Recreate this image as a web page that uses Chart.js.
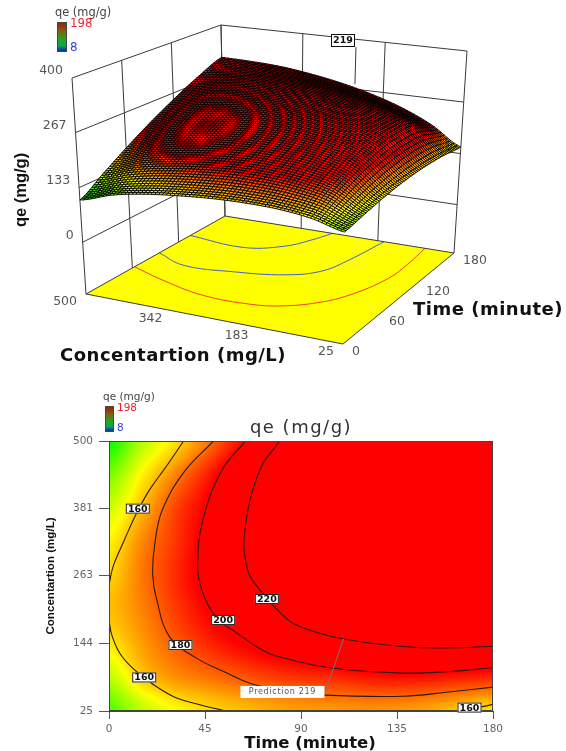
<!DOCTYPE html>
<html>
<head>
<meta charset="utf-8">
<title>qe (mg/g)</title>
<script src="https://cdn.jsdelivr.net/npm/chart.js@4"></script>
<style>
  html, body { margin: 0; padding: 0; background: #fff; overflow: hidden; }
  #wrap { position: relative; width: 566px; height: 751px; overflow: hidden; }
  canvas { position: absolute; left: 0; display: block; }
  #surfaceChart { top: 0; }
  #contourChart { top: 380px; }
</style>
</head>
<body>
<div id="wrap">
  <canvas id="surfaceChart" width="566" height="380"></canvas>
  <canvas id="contourChart" width="566" height="371"></canvas>
</div>
<script>
// Axis ticks
const timeTicks3d = [0, 60, 120, 180];
const concTicks3d = [500, 342, 183, 25];
const qeTicks3d = [0, 133, 267, 400];
const timeTicks2d = [0, 45, 90, 135, 180];
const concTicks2d = [25, 144, 263, 381, 500];

// Colour scale
const colourValues = [8, 55, 103, 150, 198];
const colourRgb = [[0, 0, 255], [0, 255, 255], [0, 255, 0], [255, 255, 0], [255, 0, 0]];

// Contour plot response (rows = concentration, columns = time)
const gridTime = [0, 15, 30, 45, 60, 75, 90, 105, 120, 135, 150, 165, 180];
const gridConc = [500, 441, 381, 322, 263, 203, 144, 84, 25];
const q500 = [105, 135, 154, 174, 194, 213, 226, 233, 238, 240, 240, 239, 236];
const q441 = [125, 151, 172, 191, 210, 224, 232, 238, 242, 244, 244, 243, 240];
const q381 = [141, 162, 184, 199, 214, 226, 234, 240, 244, 246, 247, 246, 243];
const q322 = [152, 172, 187, 202, 217, 227, 235, 240, 244, 246, 246, 245, 242];
const q263 = [158, 175, 189, 203, 216, 225, 232, 237, 240, 242, 242, 241, 239];
const q203 = [162, 173, 186, 198, 209, 219, 225, 229, 232, 233, 234, 233, 231];
const q144 = [154, 168, 180, 190, 198, 205, 211, 217, 220, 221, 221, 221, 220];
const q084 = [138, 159, 170, 176, 181, 186, 189, 191, 194, 196, 195, 193, 191];
const q025 = [118, 137, 149, 156, 161, 165, 168, 169, 170, 169, 166, 160, 155];
const gridQ = [q500, q441, q381, q322, q263, q203, q144, q084, q025];

// Contour lines, [time, concentration]
const line160a = [[35, 500], [27, 456], [19, 414], [12.5, 370], [7, 324], [2, 280], [0, 247]];
const line160b = [[0, 185], [1.3, 159], [5, 127], [10.6, 102], [16.7, 83], [23.8, 64], [31.7, 48], [42.5, 36], [55, 25]];
const line160c = [[163, 25], [177, 34], [180, 37]];
const line180 = [[49, 500], [35.5, 447], [25, 379], [21.4, 317], [20.5, 264], [22.4, 220], [28.5, 155], [41, 118], [54, 94], [67.5, 72], [85, 60], [101, 53], [138, 51], [158, 58], [180, 67]];
const line200 = [[64, 500], [53, 449], [44, 361], [41.6, 282], [43.5, 238], [50.5, 189], [60, 162], [72, 132], [80, 120], [103.6, 101], [135, 92], [158, 94], [180, 101]];
const line220 = [[80, 500], [70.7, 449], [63.7, 343], [65, 273], [70.7, 238], [80, 199], [88, 176], [109.6, 152], [139.7, 138], [158, 136], [180, 139]];
const contourLines = [line160a, line160b, line160c, line180, line200, line220];

// Contour labels, [text, time, concentration]
const contourLabels = [
  ['160', 13.5, 381], ['160', 16.5, 84], ['180', 33.5, 141],
  ['200', 53.5, 185], ['220', 74, 222], ['160', 169, 31]
];
const predictionPoint = [110, 152];
const predictionAnchor = [101, 55];
const predictionText = 'Prediction 219';

// 3D surface response (rows = concentration, columns = time)
const surfTime = [0, 30, 60, 90, 120, 150, 180];
const surfConc = [500, 441, 381, 322, 263, 203, 144, 84, 25];
const s500 = [103, 140, 178, 215, 250, 283, 311];
const s441 = [128, 166, 203, 238, 269, 293, 309];
const s381 = [143, 182, 219, 252, 279, 298, 304];
const s322 = [152, 192, 229, 260, 283, 296, 293];
const s263 = [158, 198, 233, 261, 280, 289, 278];
const s203 = [160, 198, 231, 256, 272, 276, 258];
const s144 = [158, 192, 222, 244, 257, 257, 232];
const s084 = [149, 176, 200, 218, 228, 224, 197];
const s025 = [130, 140, 150, 157, 160, 158, 150];
const surfQ = [s500, s441, s381, s322, s263, s203, s144, s084, s025];

// Contours on the floor of the 3D box, [time, concentration]
const floorBlue1 = [[135, 500], [130, 386], [144, 324], [162, 296], [180, 277]];
const floorBlue2 = [[95, 500], [81, 433], [85, 343], [96, 253], [113, 205], [140, 186], [180, 170]];
const floorRed = [[63, 500], [50, 433], [36, 333], [36, 239], [43, 191], [59, 144], [81, 110], [120, 82], [148, 80], [180, 85]];

// 3D view: where the box corners land, order [C500/t0, C500/t180, C25/t180, C25/t0]
const floorCorners = [[86, 294], [225, 216], [454, 253], [343, 344]];
const topCorners = [[72, 78], [221, 25], [467, 51], [346, 114]];
const floorLevel = -126;
const topLevel = 400;

function project(t, c, q) {
  const u = t / 180, v = (500 - c) / 475;
  const w = (q - floorLevel) / (topLevel - floorLevel);
  const weights = [(1 - u) * (1 - v), u * (1 - v), u * v, (1 - u) * v];
  let x = 0, y = 0;
  for (let i = 0; i < 4; i++) {
    x += weights[i] * (floorCorners[i][0] + w * (topCorners[i][0] - floorCorners[i][0]));
    y += weights[i] * (floorCorners[i][1] + w * (topCorners[i][1] - floorCorners[i][1]));
  }
  return { x: x, y: y };
}

// smooth shading between the read values (Catmull-Rom)
function spline(p0, p1, p2, p3, f) {
  return p1 + 0.5 * f * (p2 - p0 + f * (2 * p0 - 5 * p1 + 4 * p2 - p3 + f * (3 * (p1 - p2) + p3 - p0)));
}

function lookup(rowsQ, times, concs, t, c) {
  const nx = times.length, ny = concs.length;
  const a = (t - times[0]) / (times[nx - 1] - times[0]) * (nx - 1);
  const b = (concs[0] - c) / (concs[0] - concs[ny - 1]) * (ny - 1);
  const i = Math.max(0, Math.min(nx - 2, Math.floor(a)));
  const j = Math.max(0, Math.min(ny - 2, Math.floor(b)));
  const vals = [];
  for (let r = j - 1; r <= j + 2; r++) {
    const row = rowsQ[Math.max(0, Math.min(ny - 1, r))];
    const at = k => row[Math.max(0, Math.min(nx - 1, k))];
    vals.push(spline(at(i - 1), at(i), at(i + 1), at(i + 2), a - i));
  }
  return spline(vals[0], vals[1], vals[2], vals[3], b - j);
}

function colourFor(q) {
  if (q >= colourValues[4]) return colourRgb[4];
  if (q <= colourValues[0]) return colourRgb[0];
  let k = 0;
  while (q > colourValues[k + 1]) k++;
  const f = (q - colourValues[k]) / (colourValues[k + 1] - colourValues[k]);
  return [0, 1, 2].map(n => Math.round(colourRgb[k][n] + f * (colourRgb[k + 1][n] - colourRgb[k][n])));
}

// small colour bar with its title, same in both charts
function drawColourBar(ctx, x, y, w, h, size, bigSize) {
  const g = ctx.createLinearGradient(0, y, 0, y + h);
  g.addColorStop(0, '#a81408');
  g.addColorStop(0.3, '#806010');
  g.addColorStop(0.6, '#20a820');
  g.addColorStop(0.8, '#10a060');
  g.addColorStop(1, '#0010c8');
  ctx.fillStyle = g;
  ctx.fillRect(x, y, w, h);
  ctx.strokeStyle = '#444';
  ctx.lineWidth = 1;
  ctx.strokeRect(x + 0.5, y + 0.5, w - 1, h - 1);
  ctx.textBaseline = 'middle';
  ctx.textAlign = 'left';
  ctx.fillStyle = '#444';
  ctx.font = size + 'px "DejaVu Sans"';
  ctx.fillText('qe (mg/g)', x - 2, y - 9);
  ctx.font = bigSize + 'px "DejaVu Sans"';
  ctx.fillStyle = '#f02030';
  ctx.fillText('198', x + w + 3, y + 2);
  ctx.fillStyle = '#3040e0';
  ctx.fillText('8', x + w + 3, y + h - 4);
}

const SURF_CELLS = 70;

const surfacePlugin = {
  id: 'surface3d',
  beforeDatasetsDraw(chart) {
    // yellow floor under the floor contours
    const ctx = chart.ctx, sx = chart.scales.x, sy = chart.scales.y;
    ctx.save();
    ctx.beginPath();
    [[0, 500], [180, 500], [180, 25], [0, 25]].forEach((p, i) => {
      const a = project(p[0], p[1], floorLevel);
      const px = sx.getPixelForValue(a.x), py = sy.getPixelForValue(a.y);
      if (i === 0) ctx.moveTo(px, py); else ctx.lineTo(px, py);
    });
    ctx.closePath();
    ctx.fillStyle = '#ffff00';
    ctx.fill();
    ctx.restore();
  },
  afterDatasetsDraw(chart) {
    const ctx = chart.ctx, sx = chart.scales.x, sy = chart.scales.y;
    const at = (t, c, q) => {
      const a = project(t, c, q);
      return [sx.getPixelForValue(a.x), sy.getPixelForValue(a.y)];
    };
    ctx.save();
    // mesh drawn from the back corner to the front corner
    ctx.lineWidth = 1;
    ctx.strokeStyle = 'rgba(0,0,0,0.9)';
    const q = (t, c) => lookup(surfQ, surfTime, surfConc, t, c);
    for (let i = SURF_CELLS - 1; i >= 0; i--) {
      for (let j = 0; j < SURF_CELLS; j++) {
        const t0 = 180 * i / SURF_CELLS, t1 = 180 * (i + 1) / SURF_CELLS;
        const c0 = 500 - 475 * j / SURF_CELLS, c1 = 500 - 475 * (j + 1) / SURF_CELLS;
        const p = [at(t0, c0, q(t0, c0)), at(t1, c0, q(t1, c0)), at(t1, c1, q(t1, c1)), at(t0, c1, q(t0, c1))];
        const rgb = colourFor(q((t0 + t1) / 2, (c0 + c1) / 2));
        ctx.beginPath();
        ctx.moveTo(p[0][0], p[0][1]);
        for (let k = 1; k < 4; k++) ctx.lineTo(p[k][0], p[k][1]);
        ctx.closePath();
        ctx.fillStyle = 'rgb(' + rgb.join(',') + ')';
        ctx.fill();
        ctx.stroke();
      }
    }
    // the 219 flag
    ctx.fillStyle = '#fff';
    ctx.fillRect(331, 34, 24, 13);
    ctx.strokeStyle = '#111';
    ctx.lineWidth = 1;
    ctx.strokeRect(331.5, 34.5, 23, 12);
    ctx.fillStyle = '#111';
    ctx.font = 'bold 9.5px "DejaVu Sans"';
    ctx.textAlign = 'center';
    ctx.textBaseline = 'middle';
    ctx.fillText('219', 343, 41);

    // tick labels
    ctx.fillStyle = '#555';
    ctx.font = '12.5px "DejaVu Sans"';
    ctx.textAlign = 'right';
    qeTicks3d.forEach(v => {
      const p = at(0, 500, v);
      ctx.fillText(String(v), p[0] - 9, p[1] - 7);
    });
    concTicks3d.forEach(v => {
      const p = at(0, v, floorLevel);
      ctx.fillText(String(v), p[0] - 9, p[1] + 8);
    });
    ctx.textAlign = 'left';
    timeTicks3d.forEach(v => {
      const p = at(v, 25, floorLevel);
      ctx.fillText(String(v), p[0] + 9, p[1] + 8);
    });

    // axis titles
    ctx.fillStyle = '#111';
    ctx.font = 'bold 18px "DejaVu Sans"';
    ctx.letterSpacing = '0.5px';
    ctx.textAlign = 'left';
    ctx.fillText('Concentartion (mg/L)', 60, 356);
    ctx.fillText('Time (minute)', 413, 310);
    ctx.letterSpacing = '0px';
    ctx.save();
    ctx.translate(21, 190);
    ctx.rotate(-Math.PI / 2);
    ctx.textAlign = 'center';
    ctx.font = 'bold 16.5px "Liberation Sans"';
    ctx.fillText('qe (mg/g)', 0, 0);
    ctx.restore();

    drawColourBar(ctx, 57, 22, 10, 30, 11.4, 11.8);
    ctx.restore();
  }
};

// box edges and wall grid
const boxLines = [];
function addBoxLine(a, b) {
  boxLines.push([project(a[0], a[1], a[2]), project(b[0], b[1], b[2])]);
}
qeTicks3d.forEach(q => {
  addBoxLine([0, 500, q], [180, 500, q]);
  addBoxLine([180, 500, q], [180, 25, q]);
});
timeTicks3d.forEach(t => addBoxLine([t, 500, floorLevel], [t, 500, topLevel]));
concTicks3d.forEach(c => addBoxLine([180, c, floorLevel], [180, c, topLevel]));
addBoxLine([0, 500, floorLevel], [180, 500, floorLevel]);
addBoxLine([180, 500, floorLevel], [180, 25, floorLevel]);
addBoxLine([180, 25, floorLevel], [0, 25, floorLevel]);
addBoxLine([0, 25, floorLevel], [0, 500, floorLevel]);
addBoxLine([180, 239, 280], [180, 239, 379]);

const floorPoints = line => line.map(p => project(p[0], p[1], floorLevel));

new Chart(document.getElementById('surfaceChart'), {
  type: 'scatter',
  data: {
    datasets: [
      ...boxLines.map(l => ({
        data: l, showLine: true, pointRadius: 0, borderColor: '#3a3a3a', borderWidth: 1
      })),
      { data: floorPoints(floorBlue1), showLine: true, pointRadius: 0, tension: 0.4, borderColor: '#4060c8', borderWidth: 1 },
      { data: floorPoints(floorBlue2), showLine: true, pointRadius: 0, tension: 0.4, borderColor: '#4060c8', borderWidth: 1 },
      { data: floorPoints(floorRed), showLine: true, pointRadius: 0, tension: 0.4, borderColor: '#f04020', borderWidth: 1 }
    ]
  },
  options: {
    responsive: false,
    animation: false,
    layout: { padding: 0 },
    plugins: { legend: { display: false }, tooltip: { enabled: false } },
    scales: {
      x: { type: 'linear', min: 0, max: 566, display: false },
      y: { type: 'linear', min: 0, max: 380, reverse: true, display: false }
    }
  },
  plugins: [surfacePlugin]
});

// red to green field behind the contours
const heatPlugin = {
  id: 'heatField',
  beforeDatasetsDraw(chart) {
    const ctx = chart.ctx, area = chart.chartArea, sx = chart.scales.x, sy = chart.scales.y;
    const w = Math.round(area.right - area.left), h = Math.round(area.bottom - area.top);
    const off = document.createElement('canvas');
    off.width = w; off.height = h;
    const octx = off.getContext('2d');
    const img = octx.createImageData(w, h);
    for (let py = 0; py < h; py++) {
      const c = sy.getValueForPixel(area.top + py + 0.5);
      for (let px = 0; px < w; px++) {
        const t = sx.getValueForPixel(area.left + px + 0.5);
        const rgb = colourFor(lookup(gridQ, gridTime, gridConc, t, c));
        const n = (py * w + px) * 4;
        img.data[n] = rgb[0]; img.data[n + 1] = rgb[1]; img.data[n + 2] = rgb[2]; img.data[n + 3] = 255;
      }
    }
    octx.putImageData(img, 0, 0);
    ctx.drawImage(off, area.left, area.top);
  },
  afterDatasetsDraw(chart) {
    const ctx = chart.ctx, area = chart.chartArea, sx = chart.scales.x, sy = chart.scales.y;
    ctx.save();
    ctx.strokeStyle = '#444';
    ctx.lineWidth = 1;
    ctx.strokeRect(area.left + 0.5, area.top + 0.5, area.right - area.left - 1, area.bottom - area.top - 1);

    // prediction flag
    const px = sx.getPixelForValue(predictionPoint[0]), py = sy.getPixelForValue(predictionPoint[1]);
    const ax = sx.getPixelForValue(predictionAnchor[0]), ay = sy.getPixelForValue(predictionAnchor[1]);
    ctx.strokeStyle = '#777';
    ctx.beginPath();
    ctx.moveTo(px, py);
    ctx.lineTo(ax, ay);
    ctx.stroke();
    ctx.fillStyle = '#fff';
    ctx.fillRect(ax - 84, ay - 8, 84, 12);
    ctx.fillStyle = '#555';
    ctx.font = '8px "DejaVu Sans"';
    ctx.letterSpacing = '0.7px';
    ctx.textAlign = 'center';
    ctx.textBaseline = 'middle';
    ctx.fillText(predictionText, ax - 42, ay - 2);
    ctx.letterSpacing = '0px';

    // contour value boxes
    ctx.font = 'bold 9.5px "DejaVu Sans"';
    contourLabels.forEach(l => {
      const x = sx.getPixelForValue(l[1]), y = sy.getPixelForValue(l[2]);
      ctx.fillStyle = '#fff';
      ctx.fillRect(x - 12, y - 5, 24, 10);
      ctx.strokeStyle = '#222';
      ctx.strokeRect(x - 11.5, y - 4.5, 23, 9);
      ctx.fillStyle = '#111';
      ctx.fillText(l[0], x, y + 0.5);
    });

    // title and colour bar
    ctx.fillStyle = '#333';
    ctx.font = '18px "DejaVu Sans"';
    ctx.letterSpacing = '1.5px';
    ctx.fillText('qe (mg/g)', (area.left + area.right) / 2, area.top - 13);
    ctx.letterSpacing = '0px';

    // x axis title sits right of the plot centre
    ctx.fillStyle = '#111';
    ctx.font = 'bold 16.5px "DejaVu Sans"';
    ctx.fillText('Time (minute)', 310, area.bottom + 33);

    drawColourBar(ctx, 105, 26, 9, 26, 10.5, 10.5);
    ctx.restore();
  }
};

new Chart(document.getElementById('contourChart'), {
  type: 'scatter',
  data: {
    datasets: contourLines.map(line => ({
      data: line.map(p => ({ x: p[0], y: p[1] })),
      showLine: true,
      pointRadius: 0,
      tension: 0.4,
      borderColor: '#2a1a10',
      borderWidth: 1.1
    }))
  },
  options: {
    responsive: false,
    animation: false,
    layout: { padding: { top: 61, right: 73, left: 44, bottom: 0 } },
    plugins: { legend: { display: false }, tooltip: { enabled: false } },
    scales: {
      x: {
        type: 'linear',
        min: 0,
        max: 180,
        afterBuildTicks: axis => { axis.ticks = timeTicks2d.map(v => ({ value: v })); },
        afterFit: axis => { axis.height = 40; },
        grid: { drawOnChartArea: false, tickLength: 8, color: '#555' },
        border: { color: '#444' },
        ticks: { color: '#666', font: { family: 'DejaVu Sans', size: 10.5 }, maxRotation: 0, padding: 4 }
      },
      y: {
        type: 'linear',
        min: 25,
        max: 500,
        afterBuildTicks: axis => { axis.ticks = concTicks2d.map(v => ({ value: v })); },
        afterFit: axis => { axis.width = 65; },
        grid: { drawOnChartArea: false, tickLength: 10, color: '#555' },
        border: { color: '#333' },
        ticks: { color: '#666', font: { family: 'DejaVu Sans', size: 10.5 }, padding: 6 },
        title: {
          display: true,
          text: 'Concentartion (mg/L)',
          color: '#111',
          font: { family: 'Liberation Sans', weight: 'bold', size: 11.6 },
          padding: 0
        }
      }
    }
  },
  plugins: [heatPlugin]
});
</script>
</body>
</html>
